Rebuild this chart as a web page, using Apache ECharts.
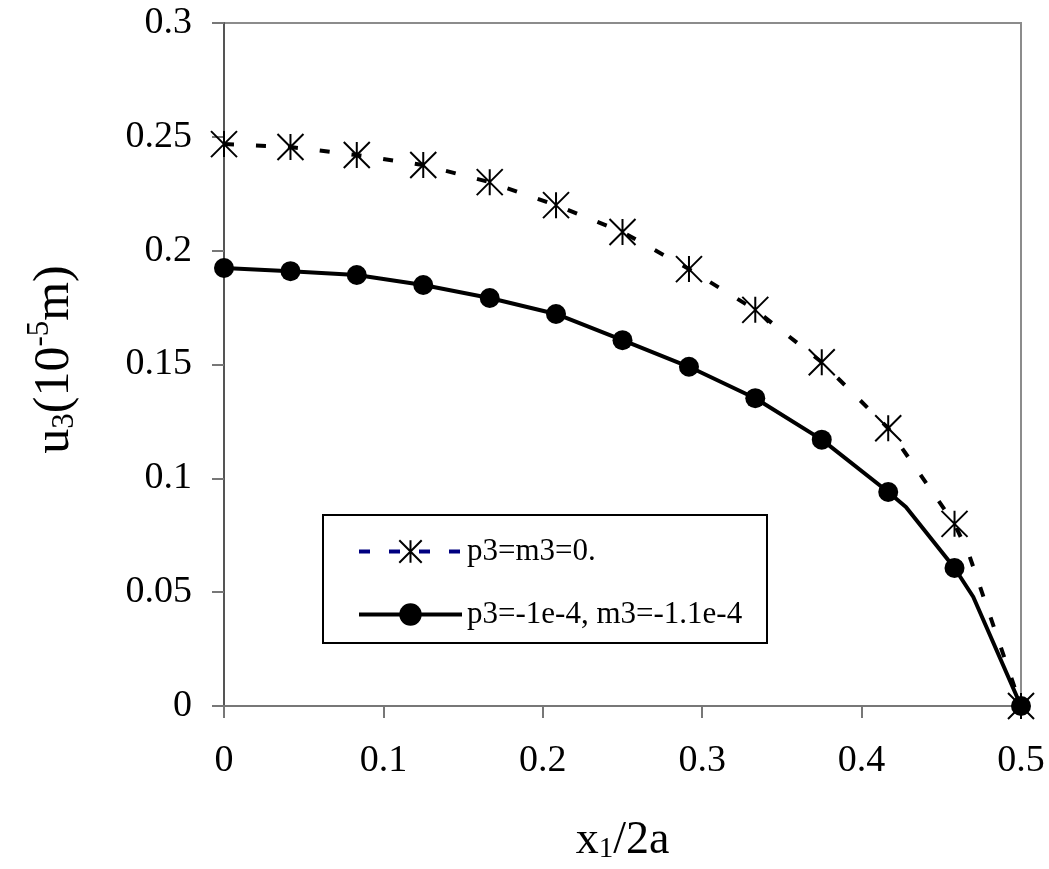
<!DOCTYPE html>
<html><head><meta charset="utf-8">
<script src="https://cdn.jsdelivr.net/npm/echarts@6/dist/echarts.min.js"></script>
<style>html,body{margin:0;padding:0;background:#fff}#c{width:1049px;height:869px}</style>
</head><body><div id="c"></div>
<script>
// x1/2a positions of the markers
const xMarks = [0, 0.0417, 0.0833, 0.125, 0.1667, 0.2083, 0.25, 0.2917, 0.3333, 0.375, 0.4167, 0.4583, 0.5];
// p3=m3=0.
const uFree = [0.2468, 0.2455, 0.242, 0.2376, 0.2301, 0.220, 0.2082, 0.1919, 0.174, 0.151, 0.122, 0.080, 0];
// p3=-1e-4, m3=-1.1e-4
const uLoaded = [0.1924, 0.191, 0.1893, 0.1849, 0.1792, 0.1722, 0.1607, 0.149, 0.1352, 0.117, 0.094, 0.0606, 0];
// extra line points without markers
const xFreeExtra = [0.4673];
const uFreeExtra = [0.0667];
const xLoadedExtra = [0.4278, 0.47];
const uLoadedExtra = [0.0874, 0.048];

const nameFree = 'p3=m3=0.';
const nameLoaded = 'p3=-1e-4, m3=-1.1e-4';

function build(xs, ys, xe, ye) {
  const pts = xs.map((x, i) => ({ value: [x, ys[i]] }));
  xe.forEach((x, i) => pts.push({ value: [x, ye[i]], symbol: 'none' }));
  pts.sort((a, b) => a.value[0] - b.value[0]);
  return pts;
}

const serif = '"Liberation Serif","Times New Roman",serif';
const chart = echarts.init(document.getElementById('c'));
const richX = {
  a: { fontFamily: serif, fontSize: 46, lineHeight: 52, color: '#000', verticalAlign: 'bottom' },
  s: { fontFamily: serif, fontSize: 29, lineHeight: 22, color: '#000', verticalAlign: 'bottom' }
};
const richY = {
  a: { fontFamily: serif, fontSize: 50, lineHeight: 56, color: '#000', verticalAlign: 'bottom' },
  s: { fontFamily: serif, fontSize: 31, lineHeight: 24, color: '#000', verticalAlign: 'bottom' },
  p: { fontFamily: serif, fontSize: 31, lineHeight: 26, color: '#000', verticalAlign: 'top' }
};
chart.setOption({
  backgroundColor: '#fff',
  animation: false,
  grid: { left: 224, right: 28, top: 23, bottom: 162, show: true, borderColor: '#8c8c8c', borderWidth: 2 },
  xAxis: {
    type: 'value', min: 0, max: 0.5, interval: 0.1,
    name: '{a|x}{s|1}{a|/2a}', nameLocation: 'middle', nameGap: 106,
    nameTextStyle: { rich: richX },
    axisLine: { show: true, onZero: false, lineStyle: { color: '#777', width: 2 } },
    axisTick: { show: true, length: 12, lineStyle: { color: '#777', width: 2 } },
    axisLabel: { fontFamily: serif, fontSize: 38, color: '#000', margin: 36 },
    splitLine: { show: false }
  },
  yAxis: {
    type: 'value', min: 0, max: 0.3, interval: 0.05,
    name: '{a|u}{s|3}{a|(10}{p|-5}{a|m)}', nameLocation: 'middle', nameGap: 144, nameRotate: 90,
    nameTextStyle: { rich: richY, padding: [0, 0, 0, 10] },
    axisLine: { show: true, lineStyle: { color: '#555', width: 2 } },
    axisTick: { show: true, length: 12, lineStyle: { color: '#777', width: 2 } },
    axisLabel: { fontFamily: serif, fontSize: 38, color: '#000', margin: 32 },
    splitLine: { show: false }
  },
  legend: {
    orient: 'vertical', left: 357, top: 536, padding: 0,
    itemWidth: 103, itemHeight: 28, itemGap: 32,
    textStyle: { fontFamily: serif, fontSize: 31, color: '#000' },
    data: [
      { name: nameFree, lineStyle: { color: '#000080', type: [11, 19], width: 4 } },
      { name: nameLoaded, lineStyle: { color: '#000', type: 'solid', width: 4 } }
    ]
  },
  graphic: [{
    type: 'rect', shape: { x: 323, y: 515, width: 444, height: 128 },
    style: { fill: 'rgba(0,0,0,0)', stroke: '#000', lineWidth: 2 }, z: 0
  }],
  series: [
    {
      name: nameFree, type: 'line',
      data: build(xMarks, uFree, xFreeExtra, uFreeExtra),
      symbol: 'path://M0 0L26 26M26 0L0 26M13 0L13 26', symbolSize: 26, symbolKeepAspect: true,
      itemStyle: { color: '#000', borderColor: '#000', borderWidth: 2 },
      lineStyle: { color: '#000', width: 4, type: [10, 22] }
    },
    {
      name: nameLoaded, type: 'line',
      data: build(xMarks, uLoaded, xLoadedExtra, uLoadedExtra),
      symbol: 'circle', symbolSize: 20,
      itemStyle: { color: '#000' },
      lineStyle: { color: '#000', width: 4 }
    }
  ]
});
</script></body></html>
